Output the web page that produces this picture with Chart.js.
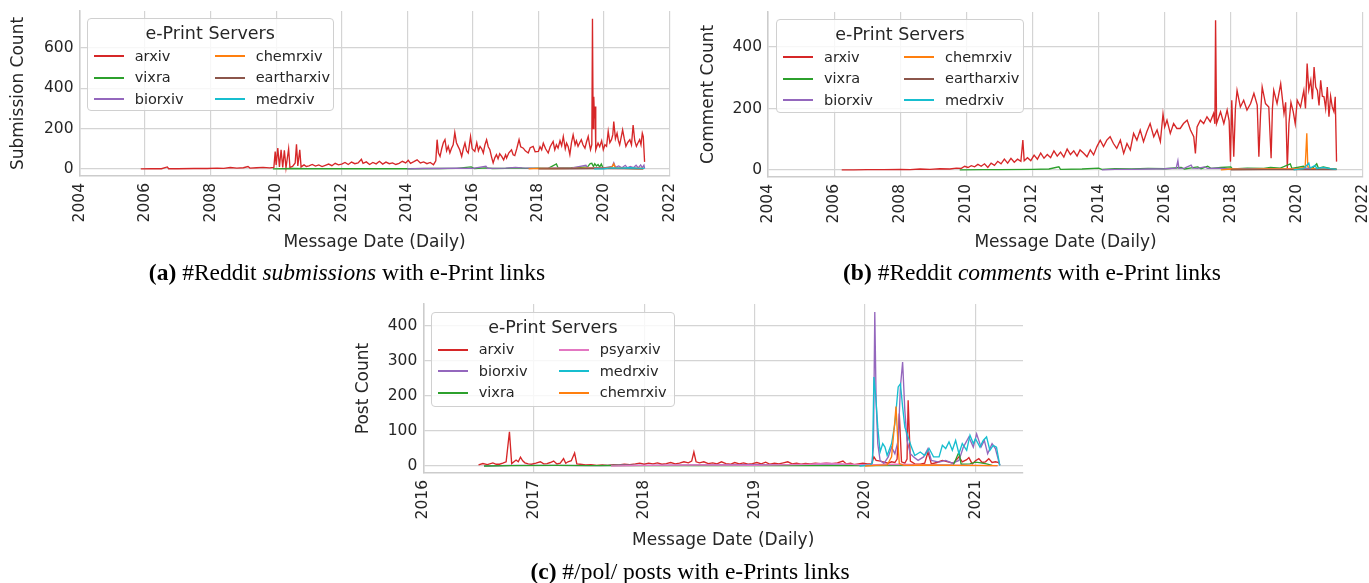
<!DOCTYPE html>
<html>
<head>
<meta charset="utf-8">
<script src="https://cdn.jsdelivr.net/npm/chart.js@4.4.1/dist/chart.umd.min.js"></script>
<style>
html,body{margin:0;padding:0;background:#fff;}
body{width:1369px;height:583px;overflow:hidden;position:relative;font-family:"DejaVu Sans",sans-serif;color:#262626;}
canvas{position:absolute;}
.legend{position:absolute;background:rgba(255,255,255,0.8);border:1px solid #d0d0d0;border-radius:4px;box-sizing:border-box;}
.legend .ttl{position:absolute;left:0;right:0;text-align:center;font-size:17.5px;line-height:20px;}
.legend .h{position:absolute;height:2px;width:30px;}
.legend .t{position:absolute;font-size:14.5px;line-height:18px;white-space:nowrap;}
.cap{position:absolute;font-family:"Liberation Serif","Times New Roman",serif;font-size:23.5px;color:#000;white-space:nowrap;transform:translate(-50%,-50%);}
</style>
</head>
<body>
<canvas id="cA" width="700" height="272" style="left:0;top:-10px"></canvas>
<canvas id="cB" width="700" height="272" style="left:690px;top:-10px"></canvas>
<canvas id="cC" width="700" height="280" style="left:340px;top:280px"></canvas>
<div class="cap" style="left:347px;top:272px"><b>(a)</b> #Reddit <i>submissions</i> with e-Print links</div>
<div class="cap" style="left:1032px;top:272px"><b>(b)</b> #Reddit <i>comments</i> with e-Print links</div>
<div class="cap" style="left:690px;top:571px"><b>(c)</b> #/pol/ posts with e-Prints links</div>
<script>
// tick values
const redditYears = [2004, 2006, 2008, 2010, 2012, 2014, 2016, 2018, 2020, 2022];
const polYears = [2016, 2017, 2018, 2019, 2020, 2021];
const subTicks = [0, 200, 400, 600];
const comTicks = [0, 200, 400];
const polTicks = [0, 100, 200, 300, 400];

// (a) reddit submissions  [year, count]
const subArxiv = [[2005.87,0],[2006.2,1],[2006.5,1],[2006.68,10],[2006.72,1],[2007.0,1],[2007.5,2],[2007.9,2],[2008.2,4],[2008.4,3],[2008.6,7],[2008.8,4],[2009.0,6],[2009.14,12],[2009.2,4],[2009.4,6],[2009.6,8],[2009.8,5],[2009.93,8],[2009.97,86],[2010.0,20],[2010.05,103],[2010.1,10],[2010.15,95],[2010.2,8],[2010.25,92],[2010.3,5],[2010.38,100],[2010.42,8],[2010.5,12],[2010.58,30],[2010.62,122],[2010.66,15],[2010.72,95],[2010.76,10],[2010.85,20],[2010.92,12],[2011.0,15],[2011.1,22],[2011.2,14],[2011.3,20],[2011.4,12],[2011.5,18],[2011.6,24],[2011.7,16],[2011.8,28],[2011.9,20],[2012.0,24],[2012.1,32],[2012.2,22],[2012.3,34],[2012.4,26],[2012.5,30],[2012.6,48],[2012.65,28],[2012.75,35],[2012.85,22],[2012.95,32],[2013.05,25],[2013.15,38],[2013.25,24],[2013.35,34],[2013.45,26],[2013.55,30],[2013.65,22],[2013.75,28],[2013.85,38],[2013.95,30],[2014.03,43],[2014.1,28],[2014.2,36],[2014.3,45],[2014.4,30],[2014.5,35],[2014.6,26],[2014.7,32],[2014.8,21],[2014.87,40],[2014.91,145],[2014.95,80],[2015.0,62],[2015.05,100],[2015.1,130],[2015.15,145],[2015.2,90],[2015.25,112],[2015.3,80],[2015.35,103],[2015.4,120],[2015.45,180],[2015.5,130],[2015.55,112],[2015.6,95],[2015.66,62],[2015.71,100],[2015.76,128],[2015.81,90],[2015.86,79],[2015.93,161],[2015.98,100],[2016.06,87],[2016.12,130],[2016.17,90],[2016.22,112],[2016.27,100],[2016.32,79],[2016.37,120],[2016.42,145],[2016.47,110],[2016.52,95],[2016.57,60],[2016.62,30],[2016.67,55],[2016.72,71],[2016.77,50],[2016.82,75],[2016.88,62],[2016.94,45],[2017.0,70],[2017.03,54],[2017.1,80],[2017.18,95],[2017.23,70],[2017.28,66],[2017.34,100],[2017.41,145],[2017.46,110],[2017.54,103],[2017.6,90],[2017.69,79],[2017.75,105],[2017.84,112],[2017.9,85],[2018.0,87],[2018.05,110],[2018.1,95],[2018.15,128],[2018.22,100],[2018.3,79],[2018.36,110],[2018.45,136],[2018.5,95],[2018.55,120],[2018.6,103],[2018.66,140],[2018.71,115],[2018.76,161],[2018.82,100],[2018.86,128],[2018.91,110],[2018.96,71],[2019.01,130],[2019.06,169],[2019.12,120],[2019.16,140],[2019.21,112],[2019.26,130],[2019.31,145],[2019.36,120],[2019.42,103],[2019.47,135],[2019.52,161],[2019.56,120],[2019.59,95],[2019.63,120],[2019.65,744],[2019.67,200],[2019.69,358],[2019.71,250],[2019.73,309],[2019.75,95],[2019.77,105],[2019.82,128],[2019.87,110],[2019.93,140],[2019.98,95],[2020.03,120],[2020.08,112],[2020.13,186],[2020.18,130],[2020.23,145],[2020.27,170],[2020.3,235],[2020.35,150],[2020.4,177],[2020.44,140],[2020.48,120],[2020.53,160],[2020.57,194],[2020.62,150],[2020.67,112],[2020.72,130],[2020.79,145],[2020.84,120],[2020.89,218],[2020.94,140],[2020.99,112],[2021.04,130],[2021.09,145],[2021.13,120],[2021.17,177],[2021.2,160],[2021.24,35]];
const subVixra = [[2009.9,0],[2010.5,2],[2011.0,1],[2012.0,1],[2013.0,1],[2014.0,1],[2015.0,2],[2015.5,3],[2015.95,10],[2016.05,2],[2016.4,5],[2016.6,2],[2017.0,3],[2017.3,6],[2017.6,3],[2018.0,4],[2018.3,3],[2018.55,25],[2018.6,5],[2019.0,6],[2019.3,8],[2019.5,10],[2019.58,26],[2019.63,28],[2019.68,12],[2019.72,26],[2019.77,15],[2019.82,22],[2019.87,10],[2019.92,24],[2019.97,6],[2020.2,4],[2020.6,3],[2021.0,2],[2021.2,2]];
const subBiorxiv = [[2014.0,0],[2014.5,2],[2015.0,2],[2015.5,4],[2016.0,3],[2016.4,13],[2016.45,3],[2017.0,4],[2017.3,8],[2017.5,5],[2018.0,3],[2018.5,5],[2019.0,4],[2019.45,18],[2019.5,5],[2019.8,6],[2020.0,5],[2020.25,12],[2020.3,30],[2020.35,8],[2020.45,15],[2020.55,6],[2020.65,18],[2020.72,5],[2020.8,12],[2020.9,6],[2020.98,18],[2021.05,5],[2021.12,20],[2021.17,6],[2021.22,18],[2021.24,3]];
const subChemrxiv = [[2017.7,0],[2018.0,3],[2018.5,2],[2019.0,3],[2019.5,4],[2020.0,3],[2020.25,10],[2020.3,25],[2020.35,5],[2020.7,3],[2021.2,2]];
const subEartharxiv = [[2018.0,0],[2019.0,1],[2020.0,2],[2021.2,1]];
const subMedrxiv = [[2019.7,0],[2020.0,1],[2020.2,5],[2020.5,4],[2020.8,6],[2021.0,4],[2021.24,3]];

// (b) reddit comments  [year, count]
const comArxiv = [[2006.23,0],[2006.6,0],[2007.0,1],[2007.5,1],[2008.0,2],[2008.3,1],[2008.6,3],[2008.9,2],[2009.2,4],[2009.5,3],[2009.7,6],[2009.85,5],[2009.95,12],[2010.05,8],[2010.15,14],[2010.25,10],[2010.35,18],[2010.45,12],[2010.55,20],[2010.65,8],[2010.75,22],[2010.85,15],[2010.95,28],[2011.05,20],[2011.15,35],[2011.25,22],[2011.35,38],[2011.45,25],[2011.55,35],[2011.65,28],[2011.71,97],[2011.75,30],[2011.85,40],[2011.95,30],[2012.05,48],[2012.15,35],[2012.25,55],[2012.35,38],[2012.45,50],[2012.55,40],[2012.65,62],[2012.75,45],[2012.85,58],[2012.95,42],[2013.05,68],[2013.15,50],[2013.25,62],[2013.35,45],[2013.44,65],[2013.55,54],[2013.65,43],[2013.75,65],[2013.85,49],[2013.95,76],[2014.05,97],[2014.15,76],[2014.25,97],[2014.35,108],[2014.45,86],[2014.55,70],[2014.66,97],[2014.76,54],[2014.86,86],[2014.96,65],[2015.06,119],[2015.16,97],[2015.26,130],[2015.36,92],[2015.46,124],[2015.56,151],[2015.67,108],[2015.77,130],[2015.87,92],[2015.95,182],[2016.0,140],[2016.07,162],[2016.17,119],[2016.27,151],[2016.37,135],[2016.47,135],[2016.57,151],[2016.68,162],[2016.78,130],[2016.88,108],[2016.93,54],[2016.98,140],[2017.08,162],[2017.18,151],[2017.28,173],[2017.38,157],[2017.48,184],[2017.52,150],[2017.54,487],[2017.57,151],[2017.63,170],[2017.69,189],[2017.79,151],[2017.89,195],[2017.95,160],[2017.99,27],[2018.03,227],[2018.09,43],[2018.14,200],[2018.19,259],[2018.29,205],[2018.39,227],[2018.49,195],[2018.6,216],[2018.7,249],[2018.8,211],[2018.85,43],[2018.9,180],[2018.95,270],[2019.05,216],[2019.15,205],[2019.22,38],[2019.26,200],[2019.3,259],[2019.4,216],[2019.51,281],[2019.61,184],[2019.66,220],[2019.71,5],[2019.76,151],[2019.82,220],[2019.89,189],[2019.95,150],[2020.01,227],[2020.11,205],[2020.21,259],[2020.26,200],[2020.31,346],[2020.36,260],[2020.42,292],[2020.47,230],[2020.52,335],[2020.57,270],[2020.62,259],[2020.67,210],[2020.72,292],[2020.77,240],[2020.82,238],[2020.87,200],[2020.92,270],[2020.97,173],[2021.02,240],[2021.07,205],[2021.12,190],[2021.16,238],[2021.2,27]];
const comVixra = [[2009.8,0],[2010.5,1],[2011.0,1],[2012.0,2],[2012.5,3],[2012.8,10],[2012.85,2],[2013.5,3],[2014.0,6],[2014.1,2],[2014.5,4],[2015.0,3],[2015.5,5],[2016.0,4],[2016.5,8],[2016.6,3],[2017.0,10],[2017.1,4],[2017.3,12],[2017.4,5],[2017.7,8],[2018.0,10],[2018.05,3],[2018.5,6],[2019.0,5],[2019.2,8],[2019.5,6],[2019.8,20],[2019.85,5],[2020.2,12],[2020.3,4],[2020.5,8],[2020.6,20],[2020.65,6],[2020.8,10],[2021.0,5],[2021.2,3]];
const comBiorxiv = [[2014.1,0],[2014.5,2],[2015.0,2],[2015.5,3],[2016.0,4],[2016.35,6],[2016.4,30],[2016.43,5],[2016.6,6],[2016.8,16],[2016.85,6],[2017.0,5],[2017.2,10],[2017.3,5],[2017.6,6],[2018.0,3],[2019.0,3],[2020.0,3],[2020.3,5],[2021.2,2]];
const comChemrxiv = [[2017.7,0],[2018.0,3],[2018.5,2],[2019.0,3],[2019.5,3],[2020.0,4],[2020.25,8],[2020.3,119],[2020.33,10],[2020.5,4],[2021.2,2]];
const comEartharxiv = [[2018.0,0],[2019.0,1],[2020.0,1],[2021.2,1]];
const comMedrxiv = [[2019.9,0],[2020.2,4],[2020.36,22],[2020.4,6],[2020.55,15],[2020.6,5],[2020.8,8],[2021.0,4],[2021.2,2]];

// (c) /pol/ posts  [year, count]
const polArxiv = [[2016.5,3],[2016.54,7],[2016.58,4],[2016.63,9],[2016.66,5],[2016.69,5],[2016.72,8],[2016.75,12],[2016.78,98],[2016.8,7],[2016.84,17],[2016.86,12],[2016.88,25],[2016.9,15],[2016.92,9],[2016.95,6],[2016.98,5],[2017.02,8],[2017.06,12],[2017.09,6],[2017.12,7],[2017.15,10],[2017.18,14],[2017.21,6],[2017.24,8],[2017.27,21],[2017.29,8],[2017.31,12],[2017.34,15],[2017.37,37],[2017.39,6],[2017.42,5],[2017.47,3],[2017.52,4],[2017.57,2],[2017.62,3],[2017.67,2],[2017.72,4],[2017.77,3],[2017.82,5],[2017.87,4],[2017.92,6],[2017.96,8],[2018.0,5],[2018.04,8],[2018.08,6],[2018.12,9],[2018.16,5],[2018.2,7],[2018.24,10],[2018.28,6],[2018.32,8],[2018.36,12],[2018.4,9],[2018.43,14],[2018.45,40],[2018.47,12],[2018.5,9],[2018.54,12],[2018.58,7],[2018.62,9],[2018.66,6],[2018.7,12],[2018.74,7],[2018.78,5],[2018.82,10],[2018.86,6],[2018.9,9],[2018.94,5],[2018.98,7],[2019.02,10],[2019.06,6],[2019.1,11],[2019.14,5],[2019.18,8],[2019.22,6],[2019.26,9],[2019.3,12],[2019.34,6],[2019.38,8],[2019.42,5],[2019.46,7],[2019.5,6],[2019.55,8],[2019.6,7],[2019.65,8],[2019.7,7],[2019.75,9],[2019.8,14],[2019.83,6],[2019.87,8],[2019.9,4],[2019.94,6],[2019.98,8],[2020.02,6],[2020.06,7],[2020.08,26],[2020.1,16],[2020.14,14],[2020.18,10],[2020.21,8],[2020.24,12],[2020.27,10],[2020.29,20],[2020.31,150],[2020.33,12],[2020.36,8],[2020.38,20],[2020.39,188],[2020.41,14],[2020.45,6],[2020.5,5],[2020.54,8],[2020.57,40],[2020.6,6],[2020.65,10],[2020.7,16],[2020.75,12],[2020.8,8],[2020.85,26],[2020.88,12],[2020.92,18],[2020.94,24],[2020.97,6],[2021.0,15],[2021.03,21],[2021.06,10],[2021.09,12],[2021.12,21],[2021.15,10],[2021.18,12],[2021.21,10],[2021.22,3]];
const polBiorxiv = [[2016.55,0],[2016.8,2],[2017.2,2],[2017.6,1],[2017.8,3],[2018.0,2],[2018.5,3],[2019.0,4],[2019.5,3],[2020.0,3],[2020.06,2],[2020.076,54],[2020.088,440],[2020.1,188],[2020.115,64],[2020.136,16],[2020.17,7],[2020.21,26],[2020.24,54],[2020.27,35],[2020.3,73],[2020.32,226],[2020.34,297],[2020.36,159],[2020.38,73],[2020.41,35],[2020.44,26],[2020.48,16],[2020.53,26],[2020.57,50],[2020.6,16],[2020.67,11],[2020.73,16],[2020.79,8],[2020.85,16],[2020.89,54],[2020.94,83],[2020.98,54],[2021.01,92],[2021.05,54],[2021.08,73],[2021.11,35],[2021.15,64],[2021.18,50],[2021.22,2]];
const polVixra = [[2016.55,0],[2016.8,1],[2017.2,2],[2017.5,1],[2017.75,2],[2018.0,1],[2019.0,1],[2020.0,1],[2020.5,2],[2020.8,3],[2020.85,40],[2020.87,5],[2020.95,6],[2021.0,11],[2021.05,9],[2021.1,6],[2021.15,2]];
const polPsyarxiv = [[2017.7,0],[2018.0,2],[2018.5,3],[2019.0,2],[2019.5,5],[2019.65,8],[2019.8,6],[2020.0,3],[2020.3,5],[2020.6,3],[2021.0,2],[2021.2,1]];
const polMedrxiv = [[2019.95,0],[2020.05,3],[2020.067,10],[2020.08,254],[2020.097,197],[2020.115,111],[2020.136,40],[2020.16,64],[2020.18,54],[2020.2,30],[2020.24,64],[2020.27,121],[2020.3,226],[2020.32,235],[2020.34,169],[2020.36,111],[2020.39,83],[2020.42,54],[2020.45,30],[2020.5,40],[2020.54,30],[2020.58,50],[2020.62,26],[2020.67,26],[2020.7,59],[2020.73,50],[2020.76,69],[2020.79,45],[2020.82,73],[2020.85,35],[2020.88,64],[2020.92,45],[2020.95,88],[2020.98,64],[2021.0,78],[2021.04,54],[2021.07,73],[2021.1,83],[2021.13,45],[2021.16,59],[2021.19,54],[2021.22,2]];
const polChemrxiv = [[2020.0,0],[2020.1,2],[2020.2,3],[2020.24,26],[2020.27,130],[2020.28,170],[2020.3,54],[2020.31,7],[2020.35,2],[2020.5,3],[2020.8,2],[2021.2,1]];

const C = {arxiv:'#d62728', vixra:'#2ca02c', biorxiv:'#9467bd', chemrxiv:'#ff7f0e', eartharxiv:'#8c564b', medrxiv:'#17becf', psyarxiv:'#e377c2'};

const TXT = '#262626';
const FONT = 'DejaVu Sans';

function makeChart(id, o){
  new Chart(document.getElementById(id), {
    type: 'line',
    data: {
      datasets: o.series.map((s, i) => ({
        label: s[0],
        data: s[1].map(p => ({x: p[0], y: p[1]})),
        borderColor: C[s[0]],
        borderWidth: 1.35,
        pointRadius: 0,
        tension: 0,
        fill: false,
        order: -i
      }))
    },
    options: {
      responsive: false, animation: false, events: [],
      layout: { padding: o.pad },
      plugins: { legend: {display:false}, tooltip: {enabled:false} },
      scales: {
        x: {
          type: 'linear', min: o.xmin, max: o.xmax,
          afterBuildTicks: s => { s.ticks = o.xticks.map(v => ({value: v})); },
          afterFit: s => { s.height = o.xh; s.paddingLeft = 0; s.paddingRight = 0; },
          ticks: { autoSkip:false, minRotation:90, maxRotation:90, padding:7, color:TXT, font:{family:FONT, size:15.5}, callback: v => String(v) },
          grid: { color:'#d4d4d4', lineWidth:1.2, drawTicks:false },
          border: { color:'#cccccc', width:1.5 },
          title: { display:true, text:'Message Date (Daily)', color:TXT, font:{family:FONT, size:17}, padding:{top:0, bottom:8.8} }
        },
        y: {
          min: o.ymin, max: o.ymax,
          afterBuildTicks: s => { s.ticks = o.yticks.map(v => ({value: v})); },
          afterFit: s => { s.width = o.yw; s.paddingTop = 0; s.paddingBottom = 0; },
          ticks: { padding:6, color:TXT, font:{family:FONT, size:15.5}, callback: v => String(v) },
          grid: { color:'#d4d4d4', lineWidth:1.2, drawTicks:false },
          border: { color:'#cccccc', width:1.5 },
          title: { display:true, text:o.ytitle, color:TXT, font:{family:FONT, size:17}, padding:{top:o.ytp, bottom:0} }
        }
      }
    }
  });
}

function makeLegend(left, top, w, h, names){
  const box = document.createElement('div');
  box.className = 'legend';
  box.style.cssText = `left:${left}px;top:${top}px;width:${w}px;height:${h}px`;
  let html = '<div class="ttl" style="top:4px">e-Print Servers</div>';
  const rows = [37, 58.5, 80];
  names.forEach((n, i) => {
    const col = Math.floor(i / 3), r = rows[i % 3];
    const hx = col ? 127 : 6, tx = col ? 168 : 47;
    html += `<div class="h" style="left:${hx}px;top:${r - 1}px;background:${C[n]}"></div>`;
    html += `<div class="t" style="left:${tx}px;top:${r - 9.5}px">${n}</div>`;
  });
  box.innerHTML = html;
  document.body.appendChild(box);
}

makeChart('cA', {
  series: [['arxiv',subArxiv],['vixra',subVixra],['biorxiv',subBiorxiv],['chemrxiv',subChemrxiv],['eartharxiv',subEartharxiv],['medrxiv',subMedrxiv]],
  xmin:2004, xmax:2022, xticks:redditYears, ymin:-35, ymax:783, yticks:subTicks,
  pad:{left:0, top:21, right:30.5, bottom:0}, xh:86, yw:79.5, ytp:8.8, ytitle:'Submission Count'
});
makeChart('cB', {
  series: [['arxiv',comArxiv],['vixra',comVixra],['biorxiv',comBiorxiv],['chemrxiv',comChemrxiv],['eartharxiv',comEartharxiv],['medrxiv',comMedrxiv]],
  xmin:2004, xmax:2022, xticks:redditYears, ymin:-23, ymax:514, yticks:comTicks,
  pad:{left:0, top:22, right:27, bottom:0}, xh:85, yw:78, ytp:8.8, ytitle:'Comment Count'
});
makeChart('cC', {
  series: [['arxiv',polArxiv],['biorxiv',polBiorxiv],['vixra',polVixra],['psyarxiv',polPsyarxiv],['medrxiv',polMedrxiv],['chemrxiv',polChemrxiv]],
  xmin:2016, xmax:2021.43, xticks:polYears, ymin:-20, ymax:463, yticks:polTicks,
  pad:{left:0, top:24, right:17, bottom:0}, xh:87, yw:83.3, ytp:13, ytitle:'Post Count'
});

makeLegend(86.7, 18.3, 247, 93, ['arxiv','vixra','biorxiv','chemrxiv','eartharxiv','medrxiv']);
makeLegend(776, 19.3, 248, 94, ['arxiv','vixra','biorxiv','chemrxiv','eartharxiv','medrxiv']);
makeLegend(430.7, 311.7, 244.5, 95, ['arxiv','biorxiv','vixra','psyarxiv','medrxiv','chemrxiv']);
</script>
</body>
</html>
